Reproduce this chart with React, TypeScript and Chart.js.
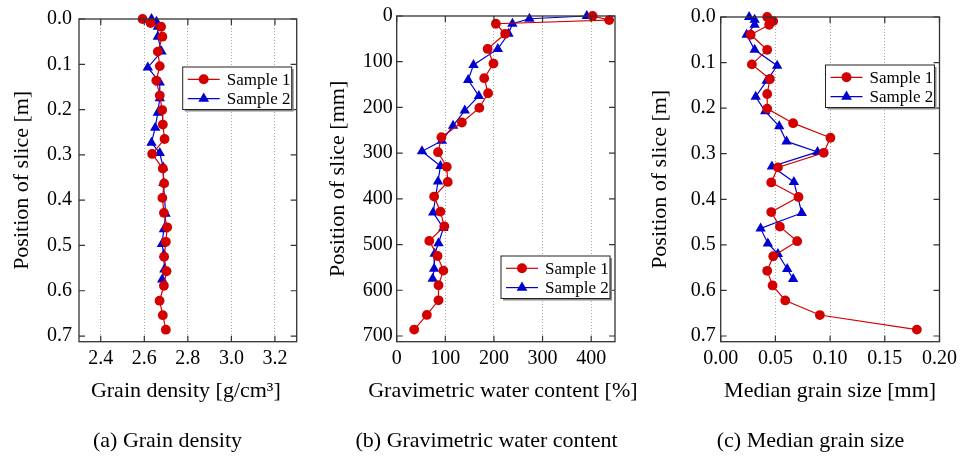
import React, { useEffect, useRef } from "react";
import { Chart, registerables } from "chart.js";

Chart.register(...registerables);

// ---------- data ----------
const depth1 = [0, 0.009, 0.017, 0.039, 0.072, 0.104, 0.136, 0.169, 0.201, 0.233, 0.265, 0.298, 0.33, 0.363, 0.395, 0.428, 0.46, 0.492, 0.525, 0.557, 0.589, 0.622, 0.654, 0.686];
const depth2 = [0, 0.006, 0.017, 0.039, 0.072, 0.107, 0.14, 0.175, 0.207, 0.24, 0.273, 0.296, 0.328, 0.362, 0.43, 0.464, 0.497, 0.52, 0.553, 0.575];

const density1 = [2.592, 2.629, 2.677, 2.683, 2.662, 2.671, 2.655, 2.671, 2.682, 2.685, 2.693, 2.636, 2.685, 2.691, 2.683, 2.69, 2.705, 2.699, 2.691, 2.702, 2.69, 2.67, 2.685, 2.699];
const density2 = [2.633, 2.656, 2.662, 2.662, 2.679, 2.616, 2.671, 2.671, 2.662, 2.65, 2.633, 2.671, 2.687, 2.688, 2.698, 2.69, 2.681, 2.69, 2.692, 2.682];

const water1 = [403, 437, 204, 223, 187, 199, 180, 188, 170, 134, 92, 85, 103, 105, 77, 90, 98, 67, 84, 96, 86, 86, 62, 36];
const water2 = [391, 273, 238, 230, 208, 158, 147, 169, 140, 116, 93, 52, 90, 85, 75, 96, 86, 78, 77, 74];

const d50_1 = [0.0425, 0.048, 0.0443, 0.0274, 0.0425, 0.0285, 0.045, 0.0425, 0.0425, 0.0662, 0.1003, 0.0942, 0.0523, 0.0462, 0.0711, 0.0462, 0.0541, 0.0699, 0.048, 0.0425, 0.0474, 0.059, 0.0906, 0.1793];
const d50_2 = [0.026, 0.031, 0.031, 0.0237, 0.031, 0.0516, 0.042, 0.032, 0.0407, 0.0535, 0.0602, 0.0885, 0.0468, 0.0669, 0.0741, 0.0365, 0.0431, 0.0523, 0.0608, 0.0662];

const depthTicksM = [0, 0.1, 0.2, 0.3, 0.4, 0.5, 0.6, 0.7];
const depthTicksMm = [0, 100, 200, 300, 400, 500, 600, 700];
const densityTicks = [2.4, 2.6, 2.8, 3.0, 3.2];
const waterTicks = [0, 100, 200, 300, 400];
const d50Ticks = [0, 0.05, 0.1, 0.15, 0.2];

const seriesNames = ["Sample 1", "Sample 2"];
const captions = ["(a) Grain density", "(b) Gravimetric water content", "(c) Median grain size"];

// ---------- style ----------
const FONT = '"Liberation Serif", "Times New Roman", Times, serif';
const RED = "#d40000";
const BLUE = "#0000d0";
const H = 458;
const TOP = 14;
const PLOT_BOTTOM = 341.7;

Chart.defaults.font.family = FONT;
Chart.defaults.color = "#000";

type PanelCfg = {
  left: number;
  width: number;
  yWidth: number;
  padRight: number;
  yTitlePad: number;
  yTickPad: number;
  xMin: number;
  xMax: number;
  yMax: number;
  xTicks: number[];
  yTicks: number[];
  xDec: number;
  yDec: number;
  xTitle: string;
  xTitleShift: number;
  yTitle: string;
  s1: number[];
  s2: number[];
  yScale: number;
  legendTop: number;
  caption: string;
  captionX: number;
};

const panels: PanelCfg[] = [
  {
    left: 0, width: 320, yWidth: 79, padRight: 23.3, yTitlePad: 8.8, yTickPad: 7,
    xMin: 2.3, xMax: 3.3, yMax: 0.7125, xTicks: densityTicks, yTicks: depthTicksM, xDec: 1, yDec: 1,
    xTitle: "Grain density [g/cm\u00B3]", xTitleShift: -2, yTitle: "Position of slice [m]",
    s1: density1, s2: density2, yScale: 1, legendTop: 48, caption: captions[0], captionX: 167.5,
  },
  {
    left: 320, width: 320, yWidth: 76.7, padRight: 25, yTitlePad: 4.8, yTickPad: 4,
    xMin: 0, xMax: 449, yMax: 712.5, xTicks: waterTicks, yTicks: depthTicksMm, xDec: 0, yDec: 0,
    xTitle: "Gravimetric water content [%]", xTitleShift: -3, yTitle: "Position of slice [mm]",
    s1: water1, s2: water2, yScale: 1000, legendTop: 240, caption: captions[1], captionX: 166.5,
  },
  {
    left: 640, width: 322, yWidth: 80.7, padRight: 22, yTitlePad: 6.8, yTickPad: 5,
    xMin: 0, xMax: 0.2, yMax: 0.7125, xTicks: d50Ticks, yTicks: depthTicksM, xDec: 2, yDec: 1,
    xTitle: "Median grain size [mm]", xTitleShift: 0, yTitle: "Position of slice [m]",
    s1: d50_1, s2: d50_2, yScale: 1, legendTop: 48, caption: captions[2], captionX: 170.5,
  },
];

function Panel({ cfg }: { cfg: PanelCfg }) {
  const ref = useRef<HTMLCanvasElement | null>(null);
  useEffect(() => {
    const canvas = ref.current;
    if (!canvas) return;

    const framePlugin = {
      id: "frameAndLegend",
      afterDraw(chart: any) {
        const ctx = chart.ctx as CanvasRenderingContext2D;
        const { left, right, top, bottom } = chart.chartArea;
        const xs = chart.scales.x;
        const ys = chart.scales.y;
        ctx.save();
        // frame
        ctx.strokeStyle = "#333";
        ctx.lineWidth = 1.3;
        ctx.strokeRect(left, top, right - left, bottom - top);
        // inward ticks
        ctx.lineWidth = 1.2;
        ctx.beginPath();
        cfg.xTicks.forEach((v) => {
          const px = xs.getPixelForValue(v);
          ctx.moveTo(px, bottom);
          ctx.lineTo(px, bottom - 6);
          ctx.moveTo(px, top);
          ctx.lineTo(px, top + 6);
        });
        cfg.yTicks.forEach((v) => {
          const py = ys.getPixelForValue(v);
          ctx.moveTo(left, py);
          ctx.lineTo(left + 6, py);
          ctx.moveTo(right, py);
          ctx.lineTo(right - 6, py);
        });
        ctx.stroke();

        // legend
        const bw = 109;
        const bh = 42.5;
        const bx = right - 5 - bw;
        const by = top + cfg.legendTop;
        ctx.fillStyle = "#8a8a8a";
        ctx.fillRect(bx + 2, by + 2, bw, bh);
        ctx.fillStyle = "#fff";
        ctx.fillRect(bx, by, bw, bh);
        ctx.strokeStyle = "#222";
        ctx.lineWidth = 1;
        ctx.strokeRect(bx, by, bw, bh);
        const rows = [by + 12.3, by + 31.6];
        const colors = [RED, BLUE];
        rows.forEach((ry, i) => {
          ctx.strokeStyle = colors[i];
          ctx.lineWidth = 1.2;
          ctx.beginPath();
          ctx.moveTo(bx + 5, ry);
          ctx.lineTo(bx + 37, ry);
          ctx.stroke();
          ctx.fillStyle = colors[i];
          ctx.beginPath();
          if (i === 0) {
            ctx.arc(bx + 21, ry, 5, 0, Math.PI * 2);
          } else {
            const r = 6.2;
            ctx.moveTo(bx + 21, ry - r);
            ctx.lineTo(bx + 21 + r * 0.866, ry + r * 0.5);
            ctx.lineTo(bx + 21 - r * 0.866, ry + r * 0.5);
            ctx.closePath();
          }
          ctx.fill();
          ctx.fillStyle = "#000";
          ctx.font = `17px ${FONT}`;
          ctx.textAlign = "left";
          ctx.textBaseline = "middle";
          ctx.fillText(seriesNames[i], bx + 44, ry + 1);
        });

        // x-axis title (drawn without width limit)
        ctx.fillStyle = "#000";
        ctx.font = `22px ${FONT}`;
        ctx.textAlign = "center";
        ctx.textBaseline = "alphabetic";
        ctx.fillText(cfg.xTitle, (left + right) / 2 + cfg.xTitleShift, 397);

        // caption
        ctx.fillText(cfg.caption, cfg.captionX, 447);
        ctx.restore();
      },
    };

    const fmtX = (v: number) => Number(v).toFixed(cfg.xDec);
    const fmtY = (v: number) => Number(v).toFixed(cfg.yDec);

    const chart = new Chart(canvas, {
      type: "scatter",
      data: {
        datasets: [
          {
            label: seriesNames[0],
            data: cfg.s1.map((v, i) => ({ x: v, y: depth1[i] * cfg.yScale })),
            showLine: true,
            borderColor: RED,
            backgroundColor: RED,
            borderWidth: 1.2,
            pointStyle: "circle",
            pointRadius: 4.9,
            pointBorderWidth: 0,
            clip: false as any,
          },
          {
            label: seriesNames[1],
            data: cfg.s2.map((v, i) => ({ x: v, y: depth2[i] * cfg.yScale })),
            showLine: true,
            borderColor: BLUE,
            backgroundColor: BLUE,
            borderWidth: 1.2,
            pointStyle: "triangle",
            pointRadius: 6,
            pointBorderWidth: 0,
            clip: false as any,
          },
        ],
      },
      options: {
        responsive: false,
        animation: false,
        devicePixelRatio: 1,
        layout: { padding: { top: TOP, right: cfg.padRight, bottom: 0, left: 0 } },
        plugins: { legend: { display: false }, tooltip: { enabled: false } },
        scales: {
          x: {
            type: "linear",
            position: "bottom",
            min: cfg.xMin,
            max: cfg.xMax,
            afterBuildTicks: (s: any) => {
              s.ticks = cfg.xTicks.map((v) => ({ value: v }));
            },
            afterFit: (s: any) => {
              s.height = H - PLOT_BOTTOM;
            },
            grid: { display: true, color: "#a8a8a8", lineWidth: 1, drawTicks: false },
            border: { display: false, dash: [1, 2] },
            ticks: {
              padding: 5,
              color: "#000",
              font: { family: FONT, size: 20 },
              maxRotation: 0,
              autoSkip: false,
              callback: (v: any) => fmtX(v),
            },
            title: { display: false },
          },
          y: {
            type: "linear",
            position: "left",
            reverse: true,
            min: 0,
            max: cfg.yMax,
            afterBuildTicks: (s: any) => {
              s.ticks = cfg.yTicks.map((v) => ({ value: v }));
            },
            afterFit: (s: any) => {
              s.width = cfg.yWidth;
            },
            grid: { display: false, drawTicks: false },
            border: { display: false },
            ticks: {
              padding: cfg.yTickPad,
              color: "#000",
              font: { family: FONT, size: 20 },
              autoSkip: false,
              callback: (v: any) => fmtY(v),
            },
            title: {
              display: true,
              text: cfg.yTitle,
              color: "#000",
              font: { family: FONT, size: 22 },
              padding: { top: cfg.yTitlePad, bottom: 0 },
            },
          },
        },
      } as any,
      plugins: [framePlugin],
    });
    return () => chart.destroy();
  }, [cfg]);

  return (
    <canvas
      ref={ref}
      width={cfg.width}
      height={H}
      style={{ position: "absolute", left: cfg.left, top: 0, width: cfg.width, height: H }}
    />
  );
}

export default function App() {
  return (
    <div style={{ position: "absolute", left: 0, top: 0, width: 962, height: H, background: "#fff" }}>
      {panels.map((p, i) => (
        <Panel key={i} cfg={p} />
      ))}
    </div>
  );
}
